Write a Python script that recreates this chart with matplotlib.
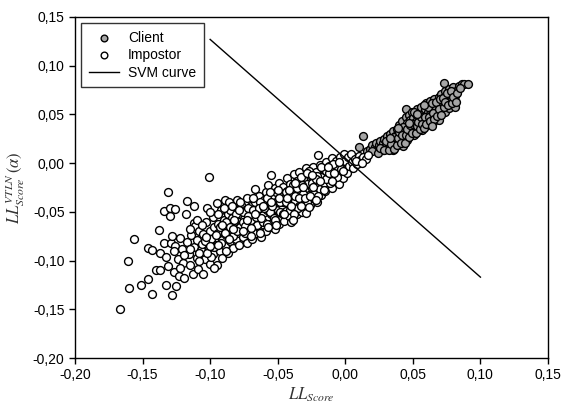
import matplotlib
matplotlib.use("Agg")
import matplotlib.pyplot as plt
from matplotlib.ticker import FuncFormatter

plt.rcParams['font.family'] = ['Liberation Sans', 'DejaVu Sans']
plt.rcParams['mathtext.fontset'] = 'stix'

# impostor scores (LL_Score, LL_Score^VTLN)
impostor = [
    (-0.167, -0.150), (-0.160, -0.128), (-0.161, -0.100), (-0.156, -0.078), (-0.151, -0.125),
    (-0.146, -0.119), (-0.143, -0.134), (-0.146, -0.087), (-0.143, -0.089), (-0.140, -0.110),
    (-0.138, -0.069), (-0.137, -0.092), (-0.137, -0.110), (-0.134, -0.049), (-0.134, -0.082),
    (-0.133, -0.125), (-0.133, -0.096), (-0.131, -0.030), (-0.130, -0.054), (-0.130, -0.046),
    (-0.131, -0.106), (-0.129, -0.082), (-0.128, -0.135), (-0.128, -0.075), (-0.127, -0.112),
    (-0.126, -0.047), (-0.126, -0.085), (-0.125, -0.126), (-0.124, -0.098), (-0.123, -0.116),
    (-0.122, -0.077), (-0.121, -0.088), (-0.120, -0.103), (-0.119, -0.118), (-0.117, -0.039),
    (-0.118, -0.052), (-0.117, -0.081), (-0.116, -0.093), (-0.115, -0.105), (-0.114, -0.074),
    (-0.113, -0.114), (-0.112, -0.044), (-0.112, -0.061), (-0.112, -0.086), (-0.111, -0.065),
    (-0.110, -0.097), (-0.110, -0.079), (-0.109, -0.109), (-0.108, -0.070), (-0.107, -0.089),
    (-0.106, -0.083), (-0.105, -0.114), (-0.105, -0.073), (-0.104, -0.098), (-0.103, -0.060),
    (-0.102, -0.046), (-0.101, -0.014), (-0.101, -0.088), (-0.100, -0.070), (-0.100, -0.104),
    (-0.099, -0.078), (-0.098, -0.055), (-0.098, -0.093), (-0.097, -0.066), (-0.096, -0.084),
    (-0.095, -0.105), (-0.095, -0.041), (-0.094, -0.072), (-0.094, -0.062), (-0.093, -0.090),
    (-0.092, -0.048), (-0.091, -0.079), (-0.091, -0.097), (-0.090, -0.058), (-0.090, -0.068),
    (-0.089, -0.085), (-0.089, -0.038), (-0.088, -0.074), (-0.087, -0.052), (-0.087, -0.092),
    (-0.086, -0.063), (-0.086, -0.040), (-0.085, -0.080), (-0.084, -0.056), (-0.084, -0.070),
    (-0.083, -0.087), (-0.082, -0.046), (-0.082, -0.066), (-0.081, -0.078), (-0.080, -0.059),
    (-0.080, -0.038), (-0.079, -0.072), (-0.079, -0.084), (-0.078, -0.052), (-0.077, -0.063),
    (-0.077, -0.043), (-0.076, -0.076), (-0.075, -0.057), (-0.075, -0.068), (-0.074, -0.048),
    (-0.073, -0.082), (-0.073, -0.036), (-0.072, -0.061), (-0.071, -0.071), (-0.071, -0.053),
    (-0.070, -0.044), (-0.069, -0.066), (-0.069, -0.078), (-0.068, -0.056), (-0.067, -0.027),
    (-0.067, -0.040), (-0.066, -0.062), (-0.066, -0.072), (-0.065, -0.049), (-0.064, -0.034),
    (-0.064, -0.058), (-0.063, -0.068), (-0.062, -0.045), (-0.062, -0.076), (-0.061, -0.053),
    (-0.060, -0.038), (-0.060, -0.063), (-0.059, -0.030), (-0.059, -0.070), (-0.058, -0.048),
    (-0.057, -0.057), (-0.057, -0.022), (-0.056, -0.040), (-0.056, -0.066), (-0.055, -0.012),
    (-0.055, -0.052), (-0.054, -0.034), (-0.054, -0.061), (-0.053, -0.045), (-0.052, -0.026),
    (-0.052, -0.068), (-0.051, -0.055), (-0.050, -0.038), (-0.050, -0.048), (-0.049, -0.020),
    (-0.049, -0.062), (-0.048, -0.031), (-0.047, -0.043), (-0.047, -0.056), (-0.046, -0.024),
    (-0.045, -0.036), (-0.045, -0.059), (-0.044, -0.049), (-0.043, -0.015), (-0.043, -0.029),
    (-0.042, -0.042), (-0.042, -0.054), (-0.041, -0.021), (-0.040, -0.034), (-0.040, -0.060),
    (-0.039, -0.046), (-0.038, -0.011), (-0.038, -0.027), (-0.037, -0.039), (-0.036, -0.052),
    (-0.036, -0.018), (-0.035, -0.031), (-0.034, -0.044), (-0.034, -0.009), (-0.033, -0.024),
    (-0.032, -0.036), (-0.032, -0.050), (-0.031, -0.016), (-0.030, -0.028), (-0.030, -0.042),
    (-0.029, -0.005), (-0.029, -0.051), (-0.028, -0.021), (-0.027, -0.033), (-0.026, -0.012),
    (-0.026, -0.043), (-0.025, -0.026), (-0.024, -0.004), (-0.024, -0.036), (-0.023, -0.018),
    (-0.022, -0.030), (-0.022, -0.009), (-0.021, -0.040), (-0.020, 0.008), (-0.020, -0.022),
    (-0.019, -0.002), (-0.018, -0.033), (-0.018, -0.014), (-0.017, -0.025), (-0.016, -0.006),
    (-0.015, -0.018), (-0.015, -0.029), (-0.014, 0.001), (-0.013, -0.011), (-0.012, -0.022),
    (-0.012, -0.003), (-0.011, -0.015), (-0.010, 0.005), (-0.010, -0.026), (-0.009, -0.008),
    (-0.008, -0.018), (-0.007, 0.002), (-0.007, -0.012), (-0.006, -0.004), (-0.005, -0.021),
    (-0.004, 0.006), (-0.004, -0.010), (-0.003, -0.001), (-0.002, -0.015), (-0.001, 0.009),
    (-0.001, -0.006), (0.000, 0.002), (0.001, -0.010), (0.002, 0.006), (0.003, -0.003),
    (0.004, 0.009), (0.005, 0.001), (0.006, -0.005), (0.007, 0.004), (0.009, -0.001),
    (0.010, 0.007), (0.011, 0.003), (0.013, 0.006), (0.015, 0.004), (0.017, 0.008),
    (-0.088, -0.060), (-0.085, -0.048), (-0.083, -0.075), (-0.081, -0.052), (-0.078, -0.066),
    (-0.076, -0.050), (-0.074, -0.072), (-0.072, -0.046), (-0.070, -0.058), (-0.068, -0.048),
    (-0.065, -0.064), (-0.063, -0.040), (-0.061, -0.060), (-0.058, -0.036), (-0.056, -0.050),
    (-0.053, -0.056), (-0.051, -0.030), (-0.048, -0.050), (-0.046, -0.040), (-0.044, -0.030),
    (-0.041, -0.048), (-0.039, -0.022), (-0.037, -0.034), (-0.035, -0.046), (-0.033, -0.014),
    (-0.031, -0.032), (-0.028, -0.040), (-0.027, -0.008), (-0.025, -0.020), (-0.023, -0.032),
    (-0.021, -0.013), (-0.019, -0.027), (-0.016, -0.020), (-0.014, -0.008), (-0.011, -0.020),
    (-0.009, -0.001), (-0.006, -0.014), (-0.003, -0.006), (-0.096, -0.074), (-0.093, -0.066),
    (-0.092, -0.082), (-0.108, -0.092), (-0.104, -0.080), (-0.099, -0.096), (-0.097, -0.108),
    (-0.102, -0.092), (-0.115, -0.088), (-0.119, -0.094), (-0.122, -0.108), (-0.127, -0.090),
    (-0.110, -0.058), (-0.106, -0.064), (-0.103, -0.076), (-0.100, -0.050), (-0.097, -0.086),
    (-0.094, -0.052), (-0.091, -0.064), (-0.089, -0.072), (-0.086, -0.078), (-0.084, -0.044),
    (-0.082, -0.058), (-0.080, -0.070), (-0.078, -0.040), (-0.076, -0.060), (-0.074, -0.065),
    (-0.072, -0.054), (-0.070, -0.067), (-0.068, -0.036), (-0.066, -0.055), (-0.064, -0.046),
    (-0.062, -0.056), (-0.060, -0.046), (-0.058, -0.062), (-0.056, -0.030), (-0.054, -0.044),
    (-0.052, -0.058), (-0.050, -0.028), (-0.048, -0.040), (-0.046, -0.052), (-0.044, -0.040),
    (-0.042, -0.028), (-0.040, -0.044), (-0.038, -0.052), (-0.036, -0.026), (-0.034, -0.036),
    (-0.032, -0.022), (-0.030, -0.036), (-0.028, -0.010), (-0.026, -0.034), (-0.024, -0.024),
    (-0.022, -0.016), (-0.020, -0.034), (-0.018, -0.004), (-0.016, -0.028), (-0.014, -0.016),
    (-0.012, -0.010), (-0.010, -0.018), (-0.008, -0.010), (-0.005, 0.001), (-0.002, -0.008),
    (0.008, 0.002), (0.012, 0.000), (-0.090, -0.046), (-0.085, -0.066), (-0.079, -0.048),
    (-0.073, -0.058), (-0.067, -0.052), (-0.061, -0.044), (-0.055, -0.040), (-0.049, -0.036),
    (-0.043, -0.036), (-0.037, -0.020), (-0.031, -0.024), (-0.025, -0.012), (-0.019, -0.018),
    (-0.013, -0.004), (-0.115, -0.068), (-0.108, -0.100), (-0.100, -0.085), (-0.094, -0.084),
    (-0.088, -0.090), (-0.083, -0.068), (-0.076, -0.070), (-0.070, -0.075), (-0.063, -0.072),
    (-0.057, -0.066), (-0.051, -0.064), (-0.045, -0.052), (-0.039, -0.058), (-0.033, -0.044),
    (-0.027, -0.045), (-0.022, -0.038),
]

# client scores
client = [
    (0.010, 0.017), (0.013, 0.028), (0.016, 0.012), (0.018, 0.015), (0.020, 0.019),
    (0.021, 0.013), (0.022, 0.017), (0.023, 0.021), (0.024, 0.015), (0.025, 0.019),
    (0.026, 0.023), (0.027, 0.017), (0.028, 0.021), (0.028, 0.014), (0.029, 0.025),
    (0.030, 0.019), (0.031, 0.028), (0.031, 0.015), (0.032, 0.022), (0.033, 0.030),
    (0.033, 0.018), (0.034, 0.025), (0.035, 0.013), (0.035, 0.033), (0.036, 0.021),
    (0.037, 0.028), (0.037, 0.017), (0.038, 0.035), (0.038, 0.024), (0.039, 0.031),
    (0.040, 0.020), (0.040, 0.039), (0.041, 0.027), (0.041, 0.035), (0.042, 0.023),
    (0.042, 0.043), (0.043, 0.031), (0.043, 0.018), (0.044, 0.038), (0.044, 0.026),
    (0.045, 0.047), (0.045, 0.056), (0.045, 0.033), (0.046, 0.041), (0.046, 0.024),
    (0.047, 0.036), (0.047, 0.049), (0.048, 0.030), (0.048, 0.044), (0.049, 0.038),
    (0.049, 0.053), (0.050, 0.034), (0.050, 0.046), (0.051, 0.041), (0.051, 0.029),
    (0.052, 0.050), (0.052, 0.037), (0.053, 0.044), (0.053, 0.056), (0.054, 0.034),
    (0.054, 0.048), (0.055, 0.041), (0.055, 0.053), (0.056, 0.037), (0.056, 0.058),
    (0.057, 0.046), (0.057, 0.034), (0.058, 0.051), (0.058, 0.042), (0.059, 0.056),
    (0.059, 0.038), (0.060, 0.048), (0.060, 0.062), (0.061, 0.044), (0.061, 0.053),
    (0.062, 0.058), (0.062, 0.040), (0.063, 0.050), (0.063, 0.064), (0.064, 0.046),
    (0.064, 0.055), (0.065, 0.060), (0.065, 0.042), (0.066, 0.052), (0.066, 0.066),
    (0.067, 0.057), (0.067, 0.047), (0.068, 0.062), (0.068, 0.053), (0.069, 0.068),
    (0.069, 0.044), (0.070, 0.058), (0.070, 0.050), (0.071, 0.064), (0.071, 0.071),
    (0.072, 0.055), (0.072, 0.061), (0.073, 0.082), (0.073, 0.068), (0.074, 0.052),
    (0.074, 0.074), (0.075, 0.060), (0.075, 0.066), (0.076, 0.070), (0.077, 0.057),
    (0.077, 0.076), (0.078, 0.064), (0.079, 0.072), (0.080, 0.078), (0.081, 0.058),
    (0.081, 0.069), (0.082, 0.074), (0.084, 0.079), (0.086, 0.081), (0.088, 0.081),
    (0.091, 0.081),
    (0.020, 0.012), (0.024, 0.010), (0.026, 0.016), (0.029, 0.013), (0.030, 0.023),
    (0.032, 0.014), (0.034, 0.020), (0.036, 0.027), (0.036, 0.015), (0.038, 0.019),
    (0.039, 0.026), (0.040, 0.032), (0.041, 0.021), (0.042, 0.029), (0.043, 0.037),
    (0.044, 0.021), (0.045, 0.029), (0.046, 0.035), (0.047, 0.027), (0.048, 0.039),
    (0.049, 0.031), (0.050, 0.040), (0.051, 0.052), (0.052, 0.031), (0.053, 0.038),
    (0.054, 0.042), (0.055, 0.035), (0.056, 0.047), (0.057, 0.040), (0.058, 0.036),
    (0.059, 0.047), (0.060, 0.040), (0.061, 0.058), (0.062, 0.047), (0.063, 0.043),
    (0.064, 0.062), (0.065, 0.051), (0.066, 0.045), (0.067, 0.063), (0.068, 0.048),
    (0.069, 0.056), (0.070, 0.066), (0.071, 0.049), (0.072, 0.067), (0.073, 0.058),
    (0.074, 0.063), (0.075, 0.072), (0.076, 0.060), (0.078, 0.074), (0.079, 0.062),
    (0.080, 0.068), (0.082, 0.063), (0.083, 0.072), (0.085, 0.077), (0.064, 0.038),
    (0.058, 0.060), (0.053, 0.050), (0.047, 0.041), (0.039, 0.036), (0.033, 0.026),
]

svm_x = [-0.100, 0.100]
svm_y = [0.127, -0.117]

xticks = [-0.20, -0.15, -0.10, -0.05, 0.00, 0.05, 0.10, 0.15]
yticks = [-0.20, -0.15, -0.10, -0.05, 0.00, 0.05, 0.10, 0.15]

fig = plt.figure(figsize=(5.66, 4.03), dpi=100)
ax = fig.add_axes([75 / 566, 1 - 358 / 403, 473 / 566, 341 / 403])

cx = [p[0] for p in client]
cy = [p[1] for p in client]
ix = [p[0] for p in impostor]
iy = [p[1] for p in impostor]

ax.scatter(cx, cy, s=32, facecolor='#a6a6a6', edgecolor='black', linewidth=1.0,
           label='Client', zorder=2)
ax.scatter(ix, iy, s=32, facecolor='white', edgecolor='black', linewidth=1.0,
           label='Impostor', zorder=3)
ax.plot(svm_x, svm_y, color='black', linewidth=1.0, label='SVM curve', zorder=4)

ax.set_xlim(-0.20, 0.15)
ax.set_ylim(-0.20, 0.15)
ax.set_xticks(xticks)
ax.set_yticks(yticks)
fmt = FuncFormatter(lambda v, pos: f"{v:.2f}".replace('.', ','))
ax.xaxis.set_major_formatter(fmt)
ax.yaxis.set_major_formatter(fmt)
ax.tick_params(direction='out', length=4, width=1, labelsize=10, top=False, right=False)
for s in ax.spines.values():
    s.set_linewidth(1.0)

ax.set_xlabel(r'$LL_{Score}$', fontsize=12, color='#333333', labelpad=2)
ax.set_ylabel(r'$LL_{Score}^{VTLN}\,(\alpha)$', fontsize=12, color='#333333', labelpad=4)

leg = ax.legend(loc='upper left', fontsize=10, frameon=True, fancybox=False,
                edgecolor='black', borderpad=0.55, handlelength=2.2, handletextpad=0.65,
                labelspacing=0.25, bbox_to_anchor=(0.0, 1.0), borderaxespad=0.43,
                markerscale=0.85)
leg.get_frame().set_linewidth(1.0)

fig.savefig('out.png', dpi=100)
